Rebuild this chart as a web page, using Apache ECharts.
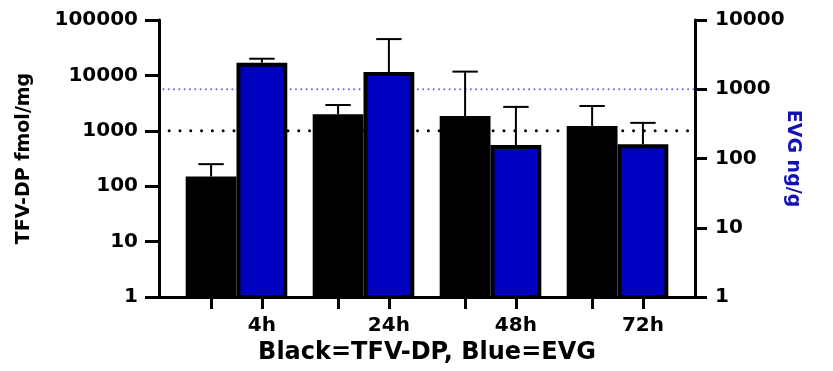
<!DOCTYPE html>
<html>
<head>
<meta charset="utf-8">
<script src="https://cdn.jsdelivr.net/npm/echarts@6/dist/echarts.min.js"></script>
<style>html,body{margin:0;padding:0;background:#fff;}#c{width:833px;height:371px;}</style>
</head>
<body>
<div id="c"></div>
<script>
// ---- data ----
const categories = ['4h', '24h', '48h', '72h'];
const tfvdp = [150, 1990, 1850, 1220];          // TFV-DP fmol/mg (left axis)
const tfvdpUpper = [250, 2920, 11700, 2800];    // upper end of error bar
const evg = [2420, 1775, 157, 161];             // EVG ng/g (right axis)
const evgUpper = [2760, 5300, 556, 327];        // upper end of error bar
const tfvdpThreshold = 1000;
const evgThreshold = 1000;

// ---- layout helpers ----
const OFF = 0.2, HALF = 0.2, CAP = 0.1;
const FONT = 'DejaVu Sans';

function barRender(fill) {
  return function (params, api) {
    const x = api.value(0), v = api.value(1), up = api.value(2);
    const tl = api.coord([x - HALF, v]);
    const br = api.coord([x + HALF, 1]);
    const top = api.coord([x, up]);
    const capL = api.coord([x - CAP, up]);
    const capR = api.coord([x + CAP, up]);
    const bw = 4;
    return {
      type: 'group',
      children: [
        {
          type: 'rect',
          shape: { x: tl[0] + bw / 2, y: tl[1] + bw / 2, width: br[0] - tl[0] - bw, height: br[1] - tl[1] - bw / 2 },
          style: { fill: fill, stroke: '#000', lineWidth: bw }
        },
        {
          type: 'line',
          shape: { x1: top[0], y1: tl[1], x2: top[0], y2: top[1] },
          style: { stroke: '#000', lineWidth: 2 }
        },
        {
          type: 'line',
          shape: { x1: capL[0], y1: capL[1], x2: capR[0], y2: capR[1] },
          style: { stroke: '#000', lineWidth: 2 }
        }
      ]
    };
  };
}

const tickPositions = [];
categories.forEach((c, i) => { tickPositions.push(i - OFF, i + OFF); });
const labelPositions = categories.map((c, i) => i + OFF);

const chart = echarts.init(document.getElementById('c'));
chart.setOption({
  animation: false,
  backgroundColor: '#fff',
  grid: { left: 159, right: 138, top: 20, bottom: 74, containLabel: false },
  xAxis: {
    type: 'value', min: -0.61, max: 3.61,
    name: 'Black=TFV-DP, Blue=EVG', nameLocation: 'middle', nameGap: 39,
    nameTextStyle: { fontFamily: FONT, fontWeight: 'bold', fontSize: 24, color: '#000' },
    axisLine: { show: true, onZero: false, lineStyle: { color: '#000', width: 3 } },
    axisTick: { show: true, length: 12, customValues: tickPositions, lineStyle: { color: '#000', width: 3 } },
    axisLabel: {
      margin: 19, customValues: labelPositions,
      fontFamily: FONT, fontWeight: 'bold', fontSize: 20, color: '#000',
      formatter: v => categories[Math.round(v - OFF)] || ''
    },
    splitLine: { show: false }
  },
  yAxis: [
    {
      type: 'log', logBase: 10, min: 1, max: 100000, position: 'left',
      name: 'TFV-DP fmol/mg', nameLocation: 'middle', nameGap: 125, nameRotate: 90,
      nameMoveOverlap: false,
      nameTextStyle: { fontFamily: FONT, fontWeight: 'bold', fontSize: 19, color: '#000' },
      axisLine: { show: true, onZero: false, lineStyle: { color: '#000', width: 3 } },
      axisTick: { show: true, length: 14, lineStyle: { color: '#000', width: 3 } },
      axisLabel: { margin: 21, fontFamily: FONT, fontWeight: 'bold', fontSize: 20, color: '#000',
        formatter: v => String(Math.round(v)) },
      splitLine: { show: false }
    },
    {
      type: 'log', logBase: 10, min: 1, max: 10000, position: 'right',
      name: 'EVG ng/g', nameLocation: 'middle', nameGap: 88, nameRotate: -90,
      nameMoveOverlap: false,
      nameTextStyle: { fontFamily: FONT, fontWeight: 'bold', fontSize: 19, color: '#1212b4' },
      axisLine: { show: true, onZero: false, lineStyle: { color: '#000', width: 3 } },
      axisTick: { show: true, length: 12, lineStyle: { color: '#000', width: 3 } },
      axisLabel: { margin: 20, fontFamily: FONT, fontWeight: 'bold', fontSize: 20, color: '#000',
        formatter: v => String(Math.round(v)) },
      splitLine: { show: false }
    }
  ],
  series: [
    {
      type: 'line', yAxisIndex: 1, z: 1, symbol: 'none', silent: true,
      data: [[-0.575, evgThreshold], [3.61, evgThreshold]],
      lineStyle: { color: '#6262e6', width: 2, type: [0, 5.3], cap: 'round' }
    },
    {
      type: 'line', yAxisIndex: 0, z: 1, symbol: 'none', silent: true,
      data: [[-0.53, tfvdpThreshold], [3.555, tfvdpThreshold]],
      lineStyle: { color: '#000', width: 3, type: [0, 10.8], cap: 'round' }
    },
    {
      name: 'TFV-DP', type: 'custom', yAxisIndex: 0, z: 3,
      renderItem: barRender('#000'),
      encode: { x: 0, y: [1, 2] },
      data: categories.map((c, i) => [i - OFF, tfvdp[i], tfvdpUpper[i]])
    },
    {
      name: 'EVG', type: 'custom', yAxisIndex: 1, z: 3,
      renderItem: barRender('#0000c0'),
      encode: { x: 0, y: [1, 2] },
      data: categories.map((c, i) => [i + OFF, evg[i], evgUpper[i]])
    }
  ]
});
</script>
</body>
</html>
